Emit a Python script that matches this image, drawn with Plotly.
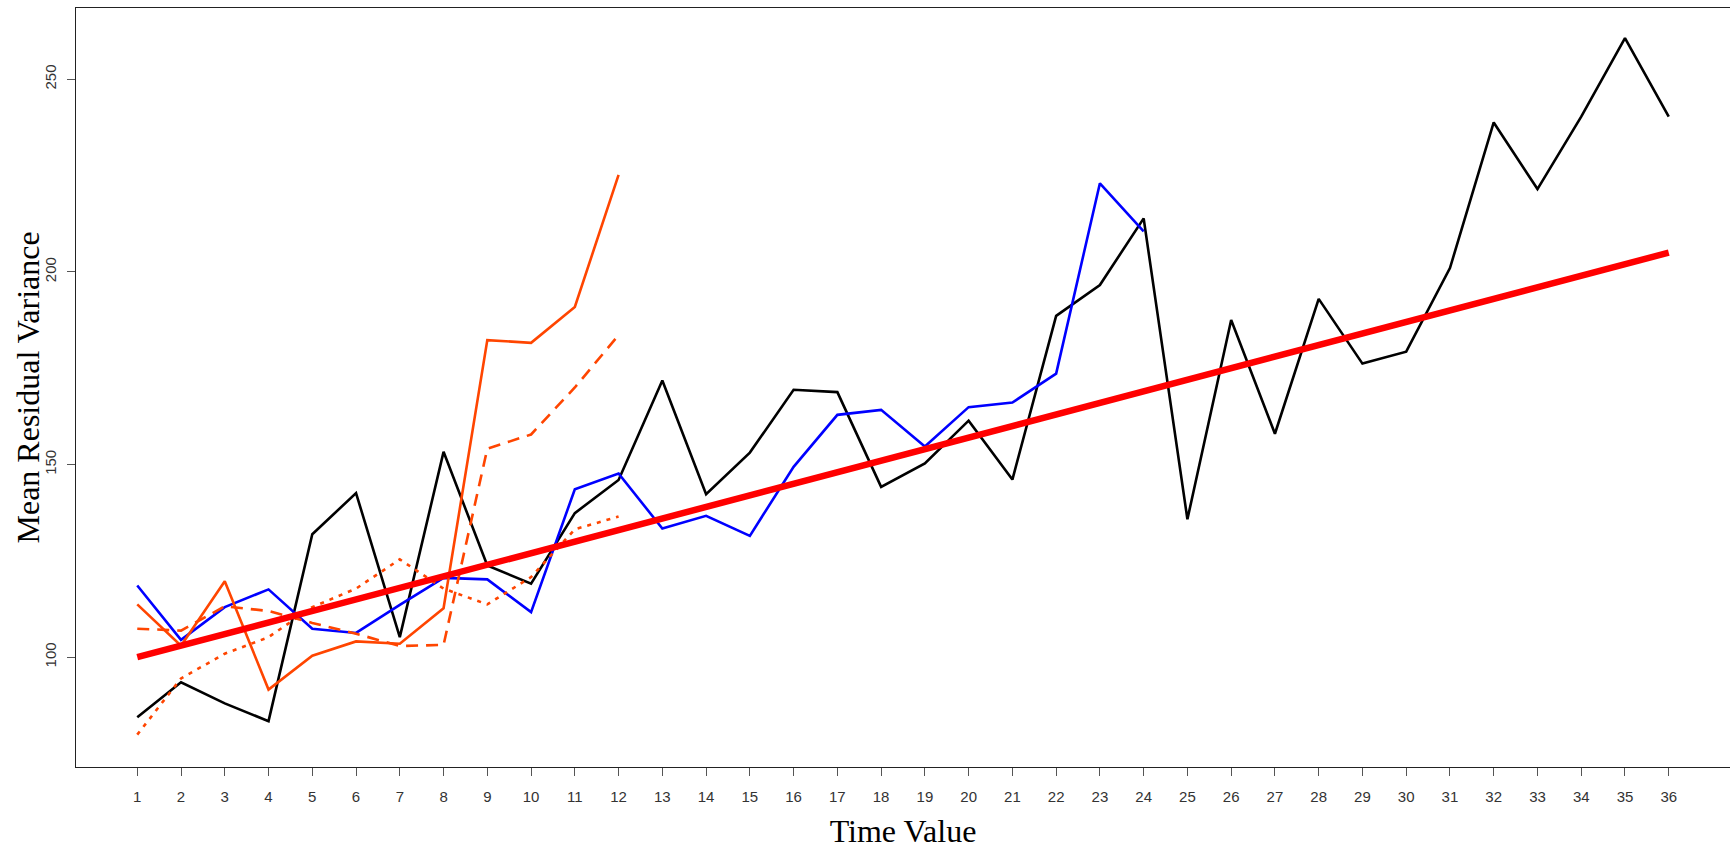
import plotly.graph_objects as go

# ---- data ----
time_values = list(range(1, 37))

series_black = [84.4, 93.5, 88.0, 83.4, 131.9, 142.6, 105.2, 153.3, 123.8, 119.1,
                137.4, 146.0, 171.8, 142.3, 153.1, 169.4, 168.8, 144.2, 150.3, 161.4,
                146.1, 188.6, 196.6, 213.9, 135.8, 187.5, 158.0, 193.0, 176.2, 179.3,
                201.0, 238.8, 221.5, 240.3, 260.7, 240.3]

series_blue = [118.6, 104.5, 113.0, 117.6, 107.4, 106.3, 113.6, 120.6, 120.2, 111.7,
               143.6, 147.7, 133.4, 136.7, 131.5, 149.4, 162.9, 164.2, 154.7, 164.9,
               166.1, 173.6, 223.0, 210.5]

series_orange_solid = [113.7, 103.0, 119.7, 91.6, 100.4, 104.1, 103.5, 112.7, 182.3, 181.6,
                       190.9, 225.2]

series_orange_dashed = [107.4, 106.9, 113.2, 112.0, 108.9, 106.1, 102.9, 103.2, 154.1, 157.8,
                        170.0, 183.6]

series_orange_dotted = [79.9, 94.5, 100.9, 105.2, 113.0, 117.8, 125.4, 117.8, 113.7, 120.8,
                        133.2, 136.5]

trend_red = [100, 103, 106, 109, 112, 115, 118, 121, 124, 127, 130, 133, 136, 139, 142, 145,
             148, 151, 154, 157, 160, 163, 166, 169, 172, 175, 178, 181, 184, 187, 190, 193,
             196, 199, 202, 205]

x_tick_labels = [str(t) for t in time_values]
y_tick_values = [100, 150, 200, 250]
y_tick_labels = ["100", "150", "200", "250"]

x_title = "Time Value"
y_title = "Mean Residual Variance"

# ---- figure ----
ORANGE = "#FF4500"
fig = go.Figure()

fig.add_trace(go.Scatter(x=time_values[:len(series_black)], y=series_black, mode="lines",
                         line=dict(color="black", width=2.6), name="black"))
fig.add_trace(go.Scatter(x=time_values[:len(series_blue)], y=series_blue, mode="lines",
                         line=dict(color="#0000FF", width=2.6), name="blue"))
fig.add_trace(go.Scatter(x=time_values[:len(series_orange_solid)], y=series_orange_solid,
                         mode="lines", line=dict(color=ORANGE, width=2.6), name="orange"))
fig.add_trace(go.Scatter(x=time_values[:len(series_orange_dashed)], y=series_orange_dashed,
                         mode="lines", line=dict(color=ORANGE, width=2.6, dash="12px,8px"),
                         name="orange dashed"))
fig.add_trace(go.Scatter(x=time_values[:len(series_orange_dotted)], y=series_orange_dotted,
                         mode="lines", line=dict(color=ORANGE, width=2.6, dash="4px,6px"),
                         name="orange dotted"))
fig.add_trace(go.Scatter(x=time_values[:len(trend_red)], y=trend_red, mode="lines",
                         line=dict(color="#FF0000", width=6.5), name="trend"))

tick_font = dict(family="Liberation Sans, Arial, sans-serif", size=15, color="#333333")
title_font = dict(family="Liberation Serif, Times New Roman, serif", size=32, color="black")

fig.update_layout(
    width=1730, height=849,
    margin=dict(l=76, r=0, t=8, b=82, pad=0),
    paper_bgcolor="white", plot_bgcolor="white",
    showlegend=False,
    xaxis=dict(
        range=[-0.4, 37.4], tickmode="array", tickvals=time_values, ticktext=x_tick_labels,
        ticks="outside", ticklen=8, tickwidth=1, tickcolor="#555555",
        showline=True, linecolor="#222222", linewidth=1, mirror=True,
        showgrid=False, zeroline=False, tickfont=tick_font, ticklabelstandoff=8,
        title=dict(text=x_title, font=title_font, standoff=20),
    ),
    yaxis=dict(
        range=[71.5, 268.5], tickmode="array", tickvals=y_tick_values, ticktext=y_tick_labels,
        ticks="outside", ticklen=8, tickwidth=1, tickcolor="#555555", tickangle=-90,
        showline=True, linecolor="#222222", linewidth=1, mirror=False,
        showgrid=False, zeroline=False, tickfont=tick_font, ticklabelstandoff=5,
    ),
    annotations=[dict(
        text=y_title, font=title_font, textangle=-90, showarrow=False,
        xref="paper", yref="paper", x=0, y=0.5, xanchor="center", yanchor="middle",
        xshift=-49,
    )],
)

fig.write_html("out.html", config={"displayModeBar": False})
